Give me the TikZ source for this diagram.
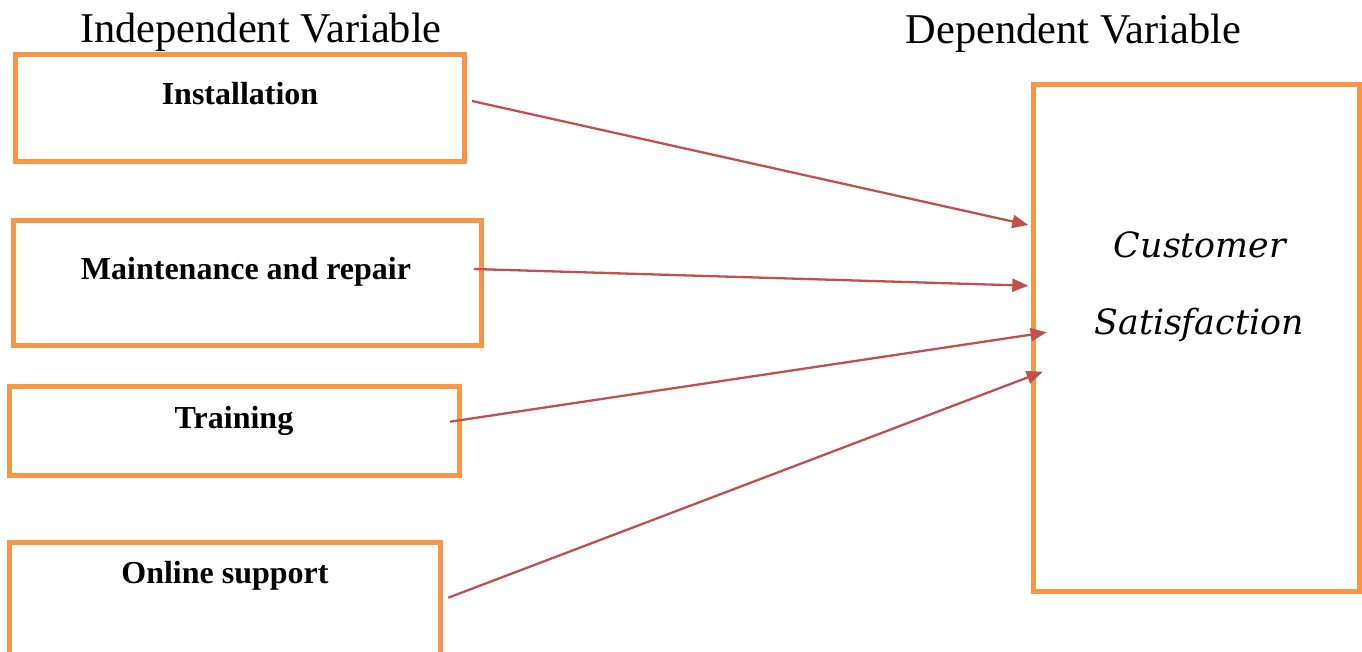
\documentclass[tikz,border=0pt]{standalone}
\usepackage{fontspec}
\setmainfont{Liberation Serif}
\newfontfamily\csfont{DejaVu Serif}
\usetikzlibrary{arrows.meta}
\definecolor{boxorange}{HTML}{F79646}
\definecolor{arrowred}{HTML}{C0504D}
\begin{document}
\begin{tikzpicture}[x=1pt,y=-1pt,
  varbox/.style={draw=boxorange,line width=5pt,rectangle,inner sep=0pt,fill=none},
  lbl/.style={anchor=base,inner sep=0pt,font=\bfseries\fontsize{32}{38}\selectfont},
  head/.style={anchor=base,inner sep=0pt,font=\fontsize{42.4}{50}\selectfont},
  cstext/.style={anchor=base,inner sep=0pt,font=\csfont\itshape\fontsize{34.8}{40}\selectfont},
  link/.style={draw=arrowred,line width=2.3pt,-{Triangle[length=16pt,width=13pt]}}]
\useasboundingbox (0,0) rectangle (1362,651);
\clip (0,0) rectangle (1362,651);
% headings
\node[head] (hind) at (261,42.7) {Independent Variable};
\node[head] (hdep) at (1073.5,43) {Dependent Variable};
% boxes
\node[varbox,minimum width=449.5pt,minimum height=106.5pt] (inst) at (239.75,107.75) {};
\node[varbox,minimum width=467.7pt,minimum height=125pt] (main) at (247.15,282.5) {};
\node[varbox,minimum width=450pt,minimum height=89.5pt] (train) at (234,430.75) {};
\node[varbox,minimum width=431.5pt,minimum height=138pt] (online) at (224.75,611) {};
\node[varbox,minimum width=326.5pt,minimum height=507pt] (cs) at (1196.25,337.5) {};
% labels
\node[lbl] (tinst) at (240,104) {Installation};
\node[lbl] (tmain) at (246,279) {Maintenance and repair};
\node[lbl] (ttrain) at (234,428) {Training};
\node[lbl] (tonline) at (225,583) {Online support};
\node[cstext] (tcs1) at (1200,257) {Customer};
\node[cstext] (tcs2) at (1199,334) {Satisfaction};
% connector ends
\coordinate (s1) at (472,101);
\coordinate (s2) at (474,269);
\coordinate (s3) at (450,421.7);
\coordinate (s4) at (448.3,597.7);
\coordinate (e1) at (1028.3,225);
\coordinate (e2) at (1028.3,285.7);
\coordinate (e3) at (1046.7,332.3);
\coordinate (e4) at (1042.7,371.7);
\draw[link] (s1) -- (e1);
\draw[link] (s2) -- (e2);
\draw[link] (s3) -- (e3);
\draw[link] (s4) -- (e4);
\end{tikzpicture}
\end{document}
